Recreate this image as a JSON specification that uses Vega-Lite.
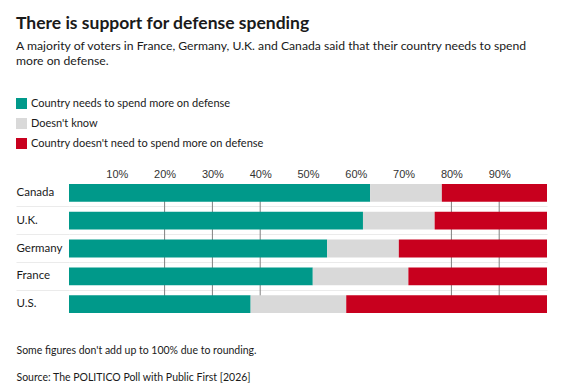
{
  "$schema": "https://vega.github.io/schema/vega-lite/v6.json",
  "width": 478,
  "height": 139,
  "autosize": {"type": "none"},
  "padding": {"left": 69, "top": 179, "right": 30, "bottom": 67},
  "background": "white",
  "config": {
    "view": {"stroke": null},
    "font": "Lato, sans-serif"
  },
  "title": {
    "text": "There is support for defense spending",
    "subtitle": ["A majority of voters in France, Germany, U.K. and Canada said that their country needs to spend", "more on defense."],
    "anchor": "start",
    "frame": "group",
    "dx": -53,
    "dy": -31,
    "offset": 0,
    "font": "Lato, sans-serif",
    "fontSize": 17.5,
    "fontWeight": "bold",
    "color": "#1a1a1a",
    "subtitleFont": "Lato, sans-serif",
    "subtitleFontSize": 12.2,
    "subtitleLineHeight": 15,
    "subtitlePadding": 7,
    "subtitleColor": "#1a1a1a"
  },
  "layer": [
    {
      "data": {"values": [{"pct": 20}, {"pct": 30}, {"pct": 40}, {"pct": 80}, {"pct": 90}]},
      "mark": {"type": "rule", "color": "#808080", "strokeWidth": 1},
      "encoding": {
        "x": {
          "field": "pct",
          "type": "quantitative",
          "scale": {"domain": [0, 100], "nice": false, "zero": true},
          "axis": {
            "orient": "bottom",
            "labels": false,
            "ticks": false,
            "domain": false,
            "grid": false,
            "title": ["Some figures don't add up to 100% due to rounding.", "Source: The POLITICO Poll with Public First [2026]"],
            "titleAnchor": "start",
            "titleAlign": "left",
            "titleBaseline": "alphabetic",
            "titleX": -53,
            "titleY": 35,
            "titleLineHeight": 27,
            "titleFont": "Lato, sans-serif",
            "titleFontSize": 10.5,
            "titleFontWeight": "normal",
            "titleColor": "#1a1a1a"
          }
        },
        "y": {"datum": "Canada", "type": "nominal"},
        "y2": {"datum": "U.S."}
      }
    },
    {
      "data": {
        "values": [
          {"country": "Canada", "response": "Country needs to spend more on defense", "ord": 1, "value": 63},
          {"country": "Canada", "response": "Doesn't know", "ord": 2, "value": 15},
          {"country": "Canada", "response": "Country doesn't need to spend more on defense", "ord": 3, "value": 22},
          {"country": "U.K.", "response": "Country needs to spend more on defense", "ord": 1, "value": 61.5},
          {"country": "U.K.", "response": "Doesn't know", "ord": 2, "value": 15},
          {"country": "U.K.", "response": "Country doesn't need to spend more on defense", "ord": 3, "value": 23.5},
          {"country": "Germany", "response": "Country needs to spend more on defense", "ord": 1, "value": 54},
          {"country": "Germany", "response": "Doesn't know", "ord": 2, "value": 15},
          {"country": "Germany", "response": "Country doesn't need to spend more on defense", "ord": 3, "value": 31},
          {"country": "France", "response": "Country needs to spend more on defense", "ord": 1, "value": 51},
          {"country": "France", "response": "Doesn't know", "ord": 2, "value": 20},
          {"country": "France", "response": "Country doesn't need to spend more on defense", "ord": 3, "value": 29},
          {"country": "U.S.", "response": "Country needs to spend more on defense", "ord": 1, "value": 38},
          {"country": "U.S.", "response": "Doesn't know", "ord": 2, "value": 20},
          {"country": "U.S.", "response": "Country doesn't need to spend more on defense", "ord": 3, "value": 42}
        ]
      },
      "mark": {"type": "bar"},
      "encoding": {
        "x": {
          "field": "value",
          "type": "quantitative",
          "stack": "zero",
          "scale": {"domain": [0, 100], "nice": false, "zero": true},
          "axis": {
            "orient": "top",
            "values": [10, 20, 30, 40, 50, 60, 70, 80, 90],
            "labelExpr": "datum.value + '%'",
            "domain": false,
            "ticks": false,
            "grid": false,
            "labelPadding": 0,
            "labelFont": "Liberation Sans, Arial, sans-serif",
            "labelFontSize": 11,
            "labelFontWeight": 500,
            "labelColor": "#333333",
            "title": null
          }
        },
        "y": {
          "field": "country",
          "type": "nominal",
          "sort": ["Canada", "U.K.", "Germany", "France", "U.S."],
          "scale": {"paddingInner": 0.36, "paddingOuter": 0.18},
          "axis": {
            "title": null,
            "domain": false,
            "ticks": true,
            "tickSize": 53,
            "tickColor": "#ebebeb",
            "tickWidth": 1,
            "tickOpacity": {"condition": {"test": "datum.value === 'Canada'", "value": 0}, "value": 1},
            "grid": true,
            "gridColor": "#ebebeb",
            "gridWidth": 1,
            "gridOpacity": {"condition": {"test": "datum.value === 'Canada'", "value": 0}, "value": 1},
            "bandPosition": -0.281,
            "labelAlign": "left",
            "labelPadding": 0,
            "labelFont": "Lato, sans-serif",
            "labelFontSize": 11.5,
            "labelColor": "#1a1a1a"
          }
        },
        "color": {
          "field": "response",
          "type": "nominal",
          "scale": {
            "domain": ["Country needs to spend more on defense", "Doesn't know", "Country doesn't need to spend more on defense"],
            "range": ["#00998a", "#d9d9d9", "#c8001e"]
          },
          "legend": {
            "orient": "none",
            "legendX": -53,
            "legendY": -81,
            "title": null,
            "symbolType": "square",
            "symbolSize": 121,
            "symbolStrokeWidth": 0,
            "symbolOpacity": 1,
            "rowPadding": 8,
            "labelOffset": 4,
            "labelFont": "Lato, sans-serif",
            "labelFontSize": 11,
            "labelColor": "#1a1a1a",
            "labelLimit": 400
          }
        },
        "order": {"field": "ord", "type": "quantitative"}
      }
    }
  ],
  "resolve": {"axis": {"x": "independent"}}
}
